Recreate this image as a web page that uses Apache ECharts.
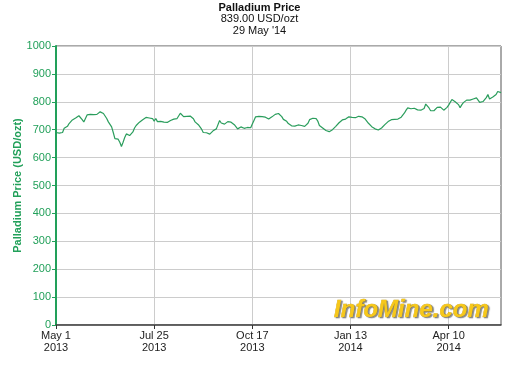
<!DOCTYPE html>
<html>
<head>
<meta charset="utf-8">
<script src="https://cdn.jsdelivr.net/npm/echarts@6/dist/echarts.min.js"></script>
<style>html,body{margin:0;padding:0;background:#fff}#c{width:519px;height:371px}</style>
</head>
<body>
<div id="c"></div>
<script>
var tickLabels = ["May 1\n2013", "Jul 25\n2013", "Oct 17\n2013", "Jan 13\n2014", "Apr 10\n2014"];
var tickStep = 60;
var prices = [
690,690,688,682,690,705,702,712,722,728,735,738,742,746,750,745,736,728,727,753,
749,755,751,754,757,755,760,764,766,758,752,740,728,719,710,690,668,664,666,655,
640,655,672,685,683,679,675,692,706,715,722,727,731,736,740,744,746,742,744,740,
731,740,729,733,730,728,727,731,726,722,733,736,738,741,740,745,759,753,747,753,
748,751,749,742,739,728,721,718,714,702,690,687,689,686,684,691,696,700,703,705,
733,724,720,720,727,729,731,727,723,718,714,703,699,710,708,705,711,708,705,707,
720,733,746,750,748,746,747,748,745,742,738,741,746,750,755,762,758,752,747,737,
734,730,722,718,714,716,713,711,717,714,715,714,712,716,723,736,739,741,742,740,
731,715,710,706,700,697,695,693,696,700,707,712,718,725,730,735,740,738,740,746,
745,744,738,743,747,748,747,746,745,738,732,723,716,711,705,703,701,699,702,706,
712,718,724,729,736,736,735,737,736,738,742,745,748,760,770,778,781,775,773,777,
773,771,773,770,768,776,792,788,778,768,762,768,775,780,785,781,777,770,767,780,
788,795,808,804,800,803,790,779,789,797,801,806,804,806,812,810,810,814,812,798,
803,801,800,815,826,810,815,817,818,826,837,831,833
];
var titleText = "Palladium Price";
var subText = "839.00 USD/ozt\n29 May '14";
var yName = "Palladium Price (USD/ozt)";

var green = '#22a05a';
var data = prices.map(function (v, i) { return [i, v]; });
var xTicks = tickLabels.map(function (t, i) { return i * tickStep; });
var chart = echarts.init(document.getElementById('c'));
chart.setOption({
  animation: false,
  title: {
    text: titleText, subtext: subText, left: 'center', top: -3, itemGap: 0,
    textStyle: { fontFamily: 'Liberation Sans', fontSize: 11, fontWeight: 'bold', color: '#111' },
    subtextStyle: { fontFamily: 'Liberation Sans', fontSize: 11, color: '#111', lineHeight: 12 }
  },
  grid: { left: 56, right: 18, top: 46, bottom: 46, show: true, borderColor: '#555', borderWidth: 1,
    backgroundColor: '#fff', outerBoundsMode: 'none', containLabel: false },
  xAxis: {
    type: 'value', min: 0, max: 272, interval: tickStep,
    axisLine: { show: true, lineStyle: { color: '#444', width: 1.5 } },
    axisTick: { show: true, length: 4, lineStyle: { color: '#333' }, customValues: xTicks },
    splitLine: { show: true, lineStyle: { color: '#cccccc', width: 1 } },
    axisLabel: {
      fontFamily: 'Liberation Sans', fontSize: 11, color: '#222', lineHeight: 12, margin: 5,
      customValues: xTicks,
      formatter: function (v) { return (v % tickStep === 0) ? (tickLabels[v / tickStep] || '') : ''; }
    }
  },
  yAxis: {
    type: 'value', min: 0, max: 1000, interval: 100,
    name: yName, nameLocation: 'middle', nameGap: 33, nameRotate: 90, nameMoveOverlap: false,
    nameTextStyle: { fontFamily: 'Liberation Sans', fontSize: 11, fontWeight: 'bold', color: green },
    axisLine: { show: true, lineStyle: { color: green, width: 2 } },
    axisTick: { show: true, length: 4, lineStyle: { color: green } },
    splitLine: { show: true, lineStyle: { color: '#cccccc', width: 1 } },
    axisLabel: { fontFamily: 'Liberation Sans', fontSize: 11, color: green, margin: 5,
      formatter: function (v) { return String(v); } }
  },
  series: [{
    type: 'line', data: data, showSymbol: false, symbol: 'none',
    lineStyle: { color: '#2a9d5c', width: 1.2 }, z: 3
  }],
  graphic: [{
    type: 'text', right: 30, top: 298, z: 10,
    style: {
      text: 'InfoMine.com', font: 'italic bold 24px "Liberation Sans"',
      fill: '#f7c81a', stroke: '#c89a00', lineWidth: 0.5,
      textShadowColor: 'rgba(90,90,90,0.7)', textShadowOffsetX: 1.5, textShadowOffsetY: 1.5, textShadowBlur: 1
    }
  }]
});
</script>
</body>
</html>
